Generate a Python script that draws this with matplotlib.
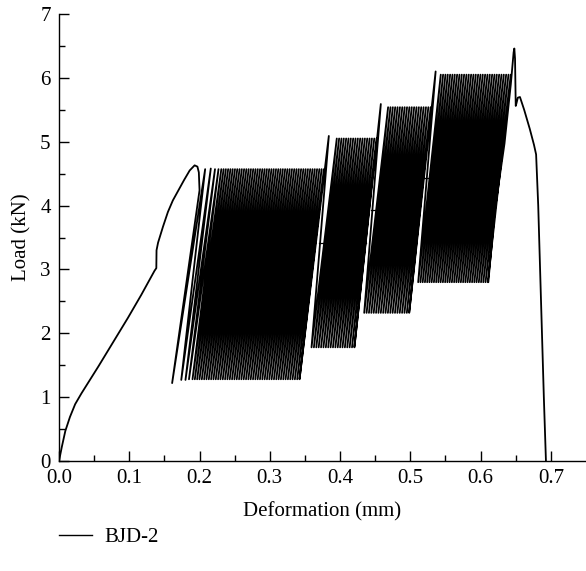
import numpy as np
import matplotlib
matplotlib.use("Agg")
from matplotlib import pyplot as plt

# ---------------------------------------------------------------------------------------------------
# Data (deformation in mm, load in kN)
# ---------------------------------------------------------------------------------------------------
# monotonic loading branch up to the first peak
init_x = [0.0, 0.004, 0.009, 0.0156, 0.023, 0.032, 0.044, 0.056, 0.077, 0.098, 0.117, 0.136, 0.1385,
          0.1388, 0.141, 0.148, 0.155, 0.162, 0.170, 0.178, 0.186, 0.193, 0.197, 0.199, 0.200]
init_y = [0.0, 0.22, 0.47, 0.69, 0.89, 1.06, 1.27, 1.48, 1.86, 2.24, 2.60, 2.98, 3.02,
          3.30, 3.42, 3.67, 3.90, 4.08, 4.24, 4.40, 4.55, 4.63, 4.61, 4.52, 4.24]

# first, loosely spaced cycles of block 1
early_valley_x = [0.161, 0.174, 0.180, 0.185]
early_peak_x = [0.208, 0.216, 0.222, 0.227]
early_peak_y = [4.57, 4.58, 4.57, 4.57]
early_valley_y = [1.22, 1.27, 1.27, 1.28]

# dense cyclic blocks
blk_first_peak_x = [0.231, 0.384, 0.458, 0.536]
blk_first_peak_y = [4.57, 5.09, 5.59, 6.10]
blk_valley_start = [0.190, 0.356, 0.431, 0.508]
blk_valley_end = [0.339, 0.417, 0.495, 0.607]
blk_peak_start = [0.231, 0.392, 0.465, 0.540]
blk_peak_end = [0.377, 0.452, 0.529, 0.643]
blk_load_max = [4.57, 5.05, 5.54, 6.05]
blk_load_min = [1.28, 1.78, 2.32, 2.80]
blk_cycles = [46, 19, 20, 32]

# final loading to failure
final_x = [0.611, 0.620, 0.634, 0.643, 0.647, 0.648, 0.649, 0.650, 0.651,
           0.653, 0.656, 0.662, 0.670, 0.676, 0.679, 0.682, 0.686, 0.690, 0.693]
final_y = [2.80, 3.90, 4.97, 5.90, 6.40, 6.46, 6.30, 5.56, 5.60,
           5.69, 5.70, 5.50, 5.20, 4.95, 4.80, 4.00, 2.50, 1.00, 0.0]

# short horizontal traces inside each block
hold_x0 = [0.228, 0.370, 0.444, 0.519]
hold_x1 = [0.356, 0.437, 0.508, 0.560]
hold_y = [2.94, 3.41, 3.93, 4.43]

x_ticks = [0.0, 0.1, 0.2, 0.3, 0.4, 0.5, 0.6, 0.7]
y_ticks = [0, 1, 2, 3, 4, 5, 6, 7]

# ---------------------------------------------------------------------------------------------------
# Build the load path
# ---------------------------------------------------------------------------------------------------
xs = list(init_x)
ys = list(init_y)
for vx, vy, px, py in zip(early_valley_x, early_valley_y, early_peak_x, early_peak_y):
    xs += [vx, px]
    ys += [vy, py]

for k in range(len(blk_cycles)):
    n = blk_cycles[k]
    vx = np.linspace(blk_valley_start[k], blk_valley_end[k], n)
    px = np.linspace(blk_peak_start[k], blk_peak_end[k], n)
    px[0] = blk_first_peak_x[k]
    for i in range(n):
        if not (k > 0 and i == 0):
            xs.append(vx[i])
            ys.append(blk_load_min[k])
        xs.append(px[i])
        ys.append(blk_first_peak_y[k] if i == 0 else blk_load_max[k])
    # unload once more before the next load level
    xs.append(vx[-1] + (vx[-1] - vx[-2]))
    ys.append(blk_load_min[k])

xs += final_x
ys += final_y

# ---------------------------------------------------------------------------------------------------
# Plot
# ---------------------------------------------------------------------------------------------------
plt.rcParams["font.family"] = ["Liberation Serif", "DejaVu Serif"]
fs = 15
fig = plt.figure(figsize=(5.86, 5.71), dpi=100)
ax = fig.add_axes([59 / 586, 1 - 461 / 571, 1 - 59 / 586, (461 - 14) / 571])

line, = ax.plot(xs, ys, color="black", linewidth=1.3, label="BJD-2")
for x0, x1, y in zip(hold_x0, hold_x1, hold_y):
    ax.plot([x0, x1], [y, y], color="black", linewidth=0.9)

ax.set_xlim(0, 0.75)
ax.set_ylim(0, 7)
ax.set_xticks(x_ticks)
ax.set_xticklabels([f"{t:.1f}" for t in x_ticks])
ax.set_yticks(y_ticks)
ax.set_xticks(np.arange(0.05, 0.75, 0.1), minor=True)
ax.set_yticks(np.arange(0.5, 7, 1.0), minor=True)
ax.tick_params(which="major", direction="in", length=7, width=1, labelsize=fs, pad=6)
ax.tick_params(which="minor", direction="in", length=4, width=1)
ax.spines["top"].set_visible(False)
ax.spines["right"].set_visible(False)
ax.spines["left"].set_linewidth(1)
ax.spines["bottom"].set_linewidth(1)
ax.set_xlabel("Deformation (mm)", fontsize=fs, labelpad=10)
ax.set_ylabel("Load (kN)", fontsize=fs, labelpad=6)

legend_line, = ax.plot([], [], color="black", linewidth=1.0, label="BJD-2")
fig.legend(handles=[legend_line], loc="center left", bbox_to_anchor=(59 / 586, 1 - 537 / 571),
           frameon=False, fontsize=fs, handlelength=1.6, handletextpad=0.6,
           borderpad=0, borderaxespad=0)

fig.savefig("out.png", dpi=100)
